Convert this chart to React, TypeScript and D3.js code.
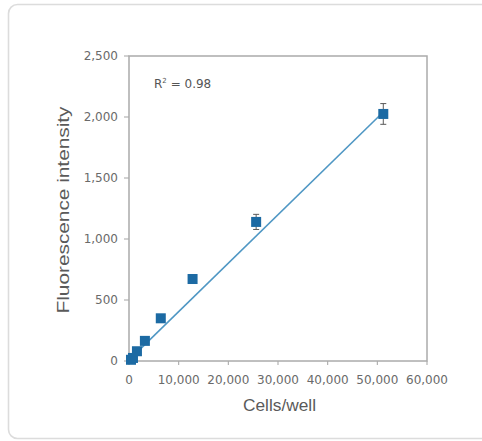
import React from "react";
import * as d3 from "d3";

const cellsPerWell = [400, 800, 1600, 3200, 6400, 12800, 25600, 51200];
const fluorescence = [10, 25, 80, 165, 350, 672, 1140, 2025];
const errorValues = [8, 10, 12, 15, 20, 25, 62, 85];
const xTicks = [0, 10000, 20000, 30000, 40000, 50000, 60000];
const yTicks = [0, 500, 1000, 1500, 2000, 2500];
const fitSlope = 0.0397;
const fitIntercept = 8;
const fitRange = [400, 51200];
const rSquaredLabel = "0.98";

const W = 482;
const H = 441;
const M = { left: 129, right: 427, top: 56, bottom: 361 };

export default function App() {
  const x = d3.scaleLinear().domain([0, 60000]).range([M.left, M.right]);
  const y = d3.scaleLinear().domain([0, 2500]).range([M.bottom, M.top]);
  const fmt = d3.format(",");
  const fitLine = d3
    .line<number>()
    .x((d) => x(d))
    .y((d) => y(fitSlope * d + fitIntercept))(fitRange);

  const axisColor = "#ababab";
  const tickText = "#6a6a6a";
  const blue = "#1c6aa3";
  const lineBlue = "#4f97c4";
  const ms = 10;

  return (
    <svg
      width={W}
      height={H}
      style={{ position: "absolute", left: 0, top: 0, background: "#fff" }}
      fontFamily="'DejaVu Sans', sans-serif"
    >
      <rect x={8.5} y={4.5} width={490} height={434} rx={9} fill="#fff" stroke="#dcdcdc" strokeWidth={1.6} />
      <rect
        x={M.left}
        y={M.top}
        width={M.right - M.left}
        height={M.bottom - M.top}
        fill="none"
        stroke={axisColor}
        strokeWidth={1.5}
      />
      {xTicks.map((t) => (
        <g key={"x" + t}>
          <line x1={x(t)} x2={x(t)} y1={M.bottom} y2={M.bottom + 4} stroke={axisColor} strokeWidth={1.1} />
          <text x={x(t)} y={384} textAnchor="middle" fontSize={12} fill={tickText}>
            {fmt(t)}
          </text>
        </g>
      ))}
      {yTicks.map((t) => (
        <g key={"y" + t}>
          <line x1={M.left - 5} x2={M.left} y1={y(t)} y2={y(t)} stroke={axisColor} strokeWidth={1.1} />
          <text x={118} y={y(t)} dy="0.35em" textAnchor="end" fontSize={12} fill={tickText}>
            {fmt(t)}
          </text>
        </g>
      ))}
      <text
        x={279.5}
        y={411}
        textAnchor="middle"
        fontSize={16.5}
        fontFamily="'Liberation Sans', Arial, sans-serif"
        fill="#5a5a5a"
        textLength={73}
        lengthAdjust="spacingAndGlyphs"
      >
        Cells/well
      </text>
      <text
        transform={`translate(69,210) rotate(-90)`}
        textAnchor="middle"
        fontSize={16}
        fontFamily="'Liberation Sans', Arial, sans-serif"
        fill="#5a5a5a"
        textLength={207}
        lengthAdjust="spacingAndGlyphs"
      >
        Fluorescence intensity
      </text>
      <text x={154} y={88} fontSize={12} fill="#555">
        R<tspan fontSize={7} dy={-5}>2</tspan>
        <tspan dy={5}>{" = " + rSquaredLabel}</tspan>
      </text>
      <path d={fitLine ?? ""} fill="none" stroke={lineBlue} strokeWidth={1.6} />
      {cellsPerWell.map((c, i) => {
        const v = fluorescence[i];
        const e = errorValues[i];
        return (
          <g key={"e" + i} stroke="#5a5a5a" strokeWidth={1}>
            <line x1={x(c)} x2={x(c)} y1={y(v + e)} y2={y(v - e)} />
            <line x1={x(c) - 3} x2={x(c) + 3} y1={y(v + e)} y2={y(v + e)} />
            <line x1={x(c) - 3} x2={x(c) + 3} y1={y(v - e)} y2={y(v - e)} />
          </g>
        );
      })}
      {cellsPerWell.map((c, i) => (
        <rect
          key={"m" + i}
          x={x(c) - ms / 2}
          y={y(fluorescence[i]) - ms / 2}
          width={ms}
          height={ms}
          fill={blue}
        />
      ))}
    </svg>
  );
}
